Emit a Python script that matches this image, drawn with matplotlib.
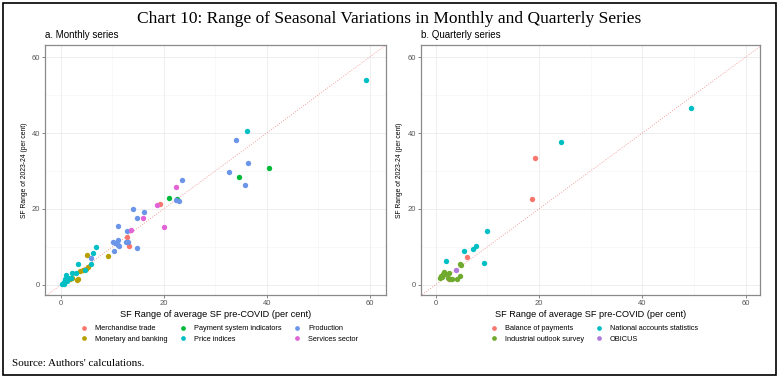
import matplotlib
matplotlib.use("Agg")
import matplotlib.pyplot as plt
from matplotlib.lines import Line2D
from matplotlib.patches import Rectangle
from matplotlib.ticker import MultipleLocator

# ---- monthly series (x: avg SF pre-COVID, y: SF 2023-24) ----
merch_x = [12.8, 13.3, 19.3]
merch_y = [12.5, 10.1, 21.4]
monetary_x = [5.0, 9.2, 5.2, 4.8, 4.3, 3.8, 3.4, 3.2, 2.1, 1.7]
monetary_y = [7.8, 7.5, 4.7, 4.2, 4.0, 3.5, 1.5, 1.2, 1.8, 1.6]
payment_x = [40.4, 34.7, 21.1, 22.6]
payment_y = [30.9, 28.5, 22.9, 22.7]
price_x = [59.4, 36.2, 6.8, 6.3, 3.4, 5.9, 4.6, 3.0, 2.2, 1.0, 1.9, 1.4, 0.8, 1.1, 0.5, 0.3, 0.6]
price_y = [54.0, 40.4, 9.9, 8.3, 5.4, 5.4, 4.0, 3.1, 3.1, 2.5, 1.9, 1.7, 1.4, 1.0, 0.7, 0.2, 0.3]
production_x = [34.0, 36.4, 32.6, 35.8, 23.6, 22.9, 22.4, 14.1, 16.2, 14.8, 11.0,
                12.9, 14.7, 10.1, 10.6, 11.0, 11.0, 11.3, 10.3, 12.7, 13.0, 5.9]
production_y = [38.1, 32.1, 29.8, 26.4, 27.5, 22.2, 22.3, 20.1, 19.3, 17.5, 15.5,
                14.1, 9.8, 11.3, 11.0, 11.9, 10.5, 10.1, 9.0, 11.3, 11.4, 7.1]
services_x = [22.3, 18.7, 20.0, 16.0, 13.7]
services_y = [25.9, 21.1, 15.3, 17.5, 14.4]

monthly_labels = ["Merchandise trade", "Monetary and banking", "Payment system indicators",
                  "Price indices", "Production", "Services sector"]
monthly_colors = ["#F8766D", "#B79F00", "#00BA38", "#00BFC4", "#6A95E8", "#E364D6"]
monthly_data = [(merch_x, merch_y), (monetary_x, monetary_y), (payment_x, payment_y),
                (price_x, price_y), (production_x, production_y), (services_x, services_y)]

# ---- quarterly series ----
bop_x = [19.3, 18.6, 6.0, 2.6]
bop_y = [33.5, 22.5, 7.2, 1.6]
ios_x = [4.8, 4.9, 1.7, 2.5, 1.5, 1.0, 1.3, 0.8, 2.3, 2.8, 3.2, 4.1, 4.7, 1.9]
ios_y = [5.6, 5.1, 3.4, 3.1, 2.8, 2.4, 2.0, 1.7, 1.8, 1.6, 1.4, 1.4, 2.2, 2.9]
nas_x = [49.4, 24.2, 10.0, 7.8, 7.2, 5.4, 2.0, 9.4]
nas_y = [46.6, 37.6, 14.1, 10.3, 9.4, 8.9, 6.2, 5.7]
obicus_x = [3.9]
obicus_y = [3.8]

quarterly_labels = ["Balance of payments", "Industrial outlook survey",
                    "National accounts statistics", "OBICUS"]
quarterly_colors = ["#F8766D", "#6FAA2E", "#00BFC4", "#B07CDB"]
quarterly_data = [(bop_x, bop_y), (ios_x, ios_y), (nas_x, nas_y), (obicus_x, obicus_y)]

ticks = [0, 20, 40, 60]

SANS = "Liberation Sans"
SERIF = "Liberation Serif"

fig = plt.figure(figsize=(7.79, 3.78), dpi=100)
W, H = 779, 378


def px_axes(x0, y0, x1, y1):
    return fig.add_axes([x0 / W, 1 - y1 / H, (x1 - x0) / W, (y1 - y0) / H])


def style_panel(ax, xlim, ylim):
    ax.set_xlim(*xlim)
    ax.set_ylim(*ylim)
    ax.set_xticks(ticks)
    ax.set_yticks(ticks)
    ax.xaxis.set_minor_locator(MultipleLocator(10))
    ax.yaxis.set_minor_locator(MultipleLocator(10))
    ax.grid(True, which="major", color="#EBEBEB", lw=0.6, zorder=0)
    ax.grid(True, which="minor", color="#F4F4F4", lw=0.4, zorder=0)
    ax.set_axisbelow(True)
    for s in ax.spines.values():
        s.set_color("#8a8a8a")
        s.set_linewidth(0.9)
    ax.tick_params(which="major", length=2, width=0.5, color="#555555",
                   labelsize=5.5, labelcolor="#555555", pad=1.5)
    ax.tick_params(which="minor", length=0)
    for lab in ax.get_xticklabels() + ax.get_yticklabels():
        lab.set_fontfamily(SANS)
    ax.plot([-10, 70], [-10, 70], color="#F08080", lw=0.6, ls=(0, (1, 2)), zorder=1)
    ax.set_xlabel("SF Range of average SF pre-COVID (per cent)", fontsize=6.6,
                  family=SANS, labelpad=2)
    ax.set_ylabel("SF Range of 2023-24 (per cent)", fontsize=4.9, family=SANS, labelpad=3)


ax1 = px_axes(45, 45, 386, 295)
for (xs, ys), c in zip(monthly_data, monthly_colors):
    ax1.scatter(xs, ys, s=15, color=c, lw=0, zorder=3)
style_panel(ax1, (-3.1, 63.2), (-2.7, 63.2))
ax1.text(0, 1.02, "a. Monthly series", transform=ax1.transAxes, fontsize=7,
         family=SANS, ha="left", va="bottom")

ax2 = px_axes(420.7, 45, 760, 295)
for (xs, ys), c in zip(quarterly_data, quarterly_colors):
    ax2.scatter(xs, ys, s=15, color=c, lw=0, zorder=3)
style_panel(ax2, (-2.9, 62.8), (-2.7, 63.2))
ax2.text(0, 1.02, "b. Quarterly series", transform=ax2.transAxes, fontsize=7,
         family=SANS, ha="left", va="bottom")


def make_handles(colors):
    return [Line2D([], [], marker="o", ls="", markersize=3.4, markerfacecolor=c,
                   markeredgewidth=0) for c in colors]


leg_kw = dict(frameon=False, prop={"family": SANS, "size": 5.3}, handlelength=1.0,
              handletextpad=1.0, labelspacing=0.5, loc="upper center",
              borderaxespad=0, borderpad=0)
fig.legend(make_handles(monthly_colors), monthly_labels, ncol=3, columnspacing=1.6,
           bbox_to_anchor=(219 / W, 1 - 325 / H), **leg_kw)
fig.legend(make_handles(quarterly_colors), quarterly_labels, ncol=2, columnspacing=1.5,
           bbox_to_anchor=(594 / W, 1 - 325 / H), **leg_kw)

fig.text(0.5, 1 - 19 / H, "Chart 10: Range of Seasonal Variations in Monthly and Quarterly Series",
         ha="center", va="center", fontsize=12.5, family=SERIF)
fig.text(12 / W, 1 - 364 / H, "Source: Authors' calculations.", ha="left", va="center",
         fontsize=8, family=SERIF)

fig.patches.append(Rectangle((3 / W, 3 / H), 773 / W, 372 / H, transform=fig.transFigure,
                             fill=False, edgecolor="black", lw=1.2))

fig.savefig("out.png", dpi=100)
